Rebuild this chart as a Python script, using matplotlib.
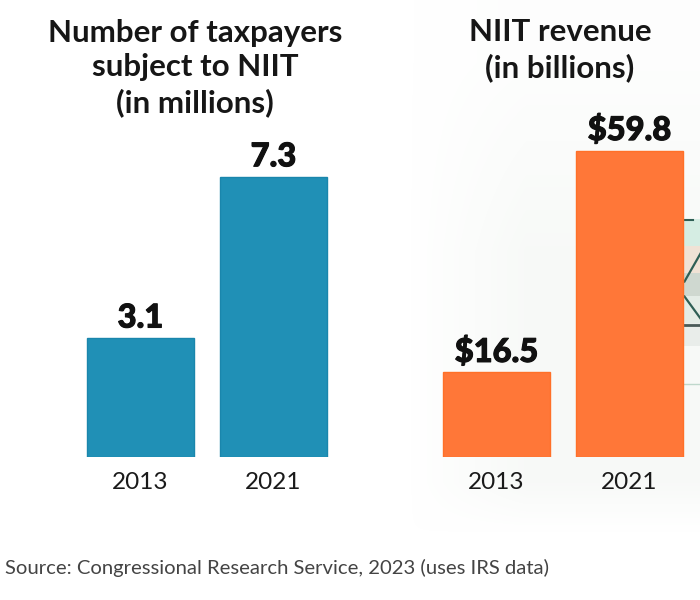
"""Taxpayers subject to NIIT and NIIT revenue, 2013 vs 2021."""

import matplotlib
matplotlib.use("Agg")
import matplotlib.pyplot as plt
import matplotlib.patheffects as pe
import numpy as np

plt.rcParams["font.family"] = ["Lato", "DejaVu Sans"]

YEARS = ["2013", "2021"]
TAXPAYERS = [3.1, 7.3]
REVENUE = [16.5, 59.8]
TAXPAYER_LABELS = ["3.1", "7.3"]
REVENUE_LABELS = ["$16.5", "$59.8"]

BLUE = "#2090B6"
ORANGE = "#FF7738"
W, H = 700, 600


def px_axes(fig, left, right, top, bottom):
    """Axes placed by pixel edges (y measured from the top of the image)."""
    return fig.add_axes([left / W, 1 - bottom / H, (right - left) / W, (bottom - top) / H])


def draw_bars(ax, values, labels, color, edge, ymax):
    bars = ax.bar(range(len(values)), values, width=0.805, color=color,
                  edgecolor=edge, linewidth=1.0)
    ax.set_xlim(-0.5, 1.5)
    ax.set_ylim(0, ymax)
    ax.set_xticks(range(len(values)), YEARS)
    ax.tick_params(axis="x", length=0, pad=11, labelsize=17.5, labelcolor="#1a1a1a")
    ax.set_yticks([])
    for s in ax.spines.values():
        s.set_visible(False)
    ax.patch.set_visible(False)
    for bar, lab in zip(bars, labels):
        t = ax.annotate(lab, (bar.get_x() + bar.get_width() / 2, bar.get_height()),
                        xytext=(0, 4), textcoords="offset points", ha="center", va="bottom",
                        fontsize=23.5, fontweight="black", color="#111111")
        t.set_path_effects([pe.withStroke(linewidth=0.8, foreground="#111111")])


fig = plt.figure(figsize=(W / 100, H / 100), dpi=100, facecolor="white")

# faint washed-out photo behind the right-hand panel
bg = px_axes(fig, 410, 700, 0, 532)
xfade = np.clip(np.linspace(0, 1, 290) * 2.5, 0, 1)
yfade = np.clip((532 - np.arange(532)) / 50, 0, 1)
topfade = np.clip(np.arange(532) / 250, 0.25, 1)
rgba = np.zeros((532, 290, 4))
rgba[..., :3] = [0.955, 0.965, 0.955]
rgba[..., 3] = np.outer(yfade * topfade, xfade) * 0.6
bg.imshow(rgba, aspect="auto", interpolation="bilinear")

# sliver of the photo's desk showing to the right of the tall bar (x offset 410)
for y0, y1, c in [(218, 245, "#D5EDE3"), (245, 272, "#F0E2D5"),
                  (272, 295, "#CFD8D0"), (295, 322, "#E4ECE6"), (322, 345, "#E9EDEA")]:
    bg.fill_between([272, 290], y0, y1, color=c, lw=0)
bg.plot([274, 290], [281, 253], color="#2F5F55", lw=1.6)
bg.plot([274, 290], [296, 318], color="#2F5F55", lw=1.6)
bg.plot([272, 290], [324, 324], color="#4A5A58", lw=2)
bg.plot([272, 282], [219, 219], color="#2F5F55", lw=1.5)
bg.plot([272, 290], [383, 383], color="#BFD8CC", lw=1)
bg.set_xlim(-0.5, 289.5)
bg.set_ylim(531.5, -0.5)
bg.axis("off")

ax1 = px_axes(fig, 74, 340, 150, 457)
draw_bars(ax1, TAXPAYERS, TAXPAYER_LABELS, BLUE, "#1A86AC", 8)

ax2 = px_axes(fig, 430, 696, 124, 457)
draw_bars(ax2, REVENUE, REVENUE_LABELS, ORANGE, "#FF7028", 65)

title_kw = dict(ha="center", va="center", fontsize=22.5, fontweight="bold",
                color="#161616", linespacing=1.27)
fig.text(195 / W, 1 - 68 / H, "Number of taxpayers\nsubject to NIIT\n(in millions)", **title_kw)
fig.text(560 / W, 1 - 50 / H, "NIIT revenue\n(in billions)", **title_kw)

fig.text(5 / W, 1 - 568 / H, "Source: Congressional Research Service, 2023 (uses IRS data)",
         ha="left", va="center", fontsize=14.6, color="#444444")

fig.savefig("out.png", dpi=100)
